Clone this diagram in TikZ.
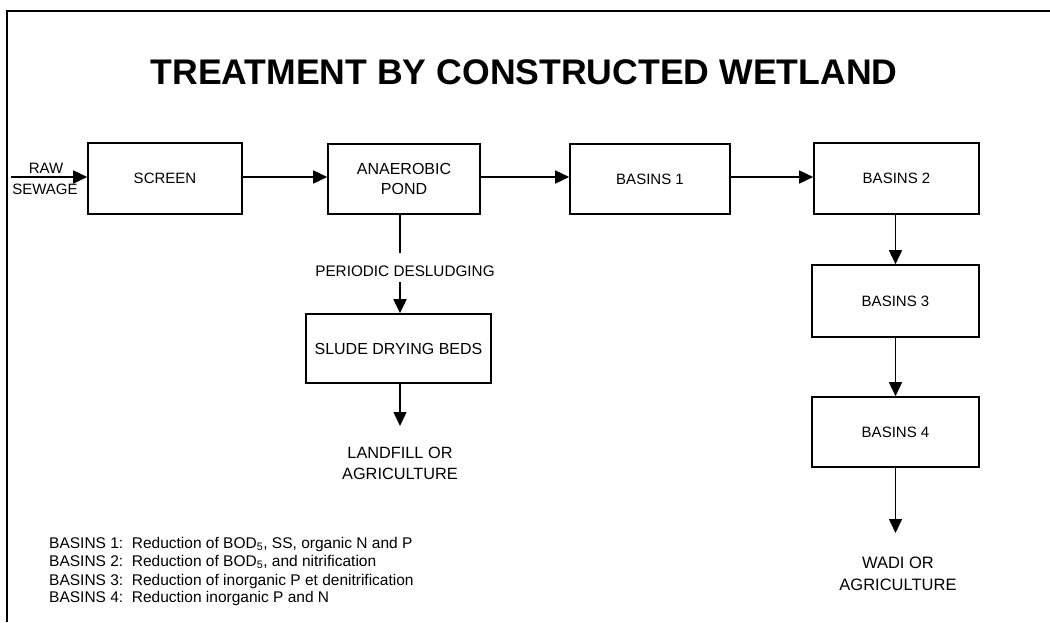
\documentclass[tikz,border=0pt]{standalone}
\usepackage{fontspec}
\setmainfont{Liberation Sans}
\usetikzlibrary{arrows.meta}
\tikzset{
  stage/.style={draw, line width=1.6pt, inner sep=0pt, align=center,
    font=\fontsize{15}{20}\selectfont},
  flow/.style={line width=1.5pt, -{Triangle[length=14pt,width=13pt]}},
  plain/.style={line width=1.5pt},
  lbl/.style={inner sep=0pt, align=center, font=\fontsize{15}{20}\selectfont},
  outlbl/.style={inner sep=0pt, align=center, font=\fontsize{16.3}{21}\selectfont},
  note/.style={inner sep=0pt, anchor=west, font=\fontsize{15.5}{18}\selectfont}
}
\begin{document}
\begin{tikzpicture}[x=1pt,y=-1pt]
\useasboundingbox (0,0) rectangle (1050,622);
% frame (top and left edges)
\draw[line width=2pt] (7,622) -- (7,11) -- (1050,11);

% title
\node[inner sep=0pt, font=\bfseries\fontsize{35.6}{40}\selectfont] (title) at (524,72)
  {TREATMENT BY CONSTRUCTED WETLAND};

% main line of stages
\node[stage, minimum width=154pt, minimum height=71pt] (screen) at (165,178.5) {SCREEN};
\node[stage, minimum width=152pt, minimum height=70pt, font=\fontsize{16}{20}\selectfont] (pond) at (404,179) {ANAEROBIC\\POND};
\node[stage, minimum width=160pt, minimum height=70pt] (b1) at (650,179) {BASINS 1};
\node[stage, minimum width=165pt, minimum height=71pt] (b2) at (896.5,178.5) {BASINS 2};
\node[stage, minimum width=167pt, minimum height=72pt] (b3) at (895.5,301) {BASINS 3};
\node[stage, minimum width=167pt, minimum height=70pt] (b4) at (895.5,432) {BASINS 4};
\node[stage, minimum width=185pt, minimum height=69pt, font=\fontsize{16}{20}\selectfont] (beds) at (398.5,348.5) {SLUDE DRYING BEDS};

% inlet
\coordinate (inlet) at (11,177);
\node[lbl] (raw) at (46,168) {RAW};
\node[lbl] (sewage) at (45,189) {SEWAGE};
\draw[flow] (inlet) -- (inlet -| screen.west);

% horizontal flow
\draw[flow] (screen.east |- inlet) -- (pond.west |- inlet);
\draw[flow] (pond.east |- inlet) -- (b1.west |- inlet);
\draw[flow] (b1.east |- inlet) -- (b2.west |- inlet);

% basins cascade
\draw[flow] (b2.south -| b3.north) -- (b3.north);
\draw[flow] (b3.south) -- (b4.north);
\coordinate (wadiend) at (895.5,533);
\draw[flow] (b4.south) -- (wadiend);
\node[outlbl, font=\fontsize{16.5}{22}\selectfont] (wadi) at (898,574) {WADI OR\\AGRICULTURE};

% desludging branch
\coordinate (d1) at (400,253);
\coordinate (d2) at (400,282);
\draw[plain] (pond.south -| d1) -- (d1);
\node[lbl, font=\fontsize{15.3}{20}\selectfont] (desl) at (405,271) {PERIODIC DESLUDGING};
\draw[flow] (d2) -- (d2 |- beds.north);
\coordinate (fillend) at (400,426);
\draw[flow] (beds.south -| fillend) -- (fillend);
\node[outlbl] (landfill) at (400,463) {LANDFILL OR\\AGRICULTURE};

% notes
\node[note] (n1) at (49,544) {BASINS 1:\ \ Reduction of BOD\textsubscript{5}, SS, organic N and P};
\node[note] (n2) at (49,562) {BASINS 2:\ \ Reduction of BOD\textsubscript{5}, and nitrification};
\node[note] (n3) at (49,581) {BASINS 3:\ \ Reduction of inorganic P et denitrification};
\node[note] (n4) at (49,598.5) {BASINS 4:\ \ Reduction inorganic P and N};
\end{tikzpicture}
\end{document}
